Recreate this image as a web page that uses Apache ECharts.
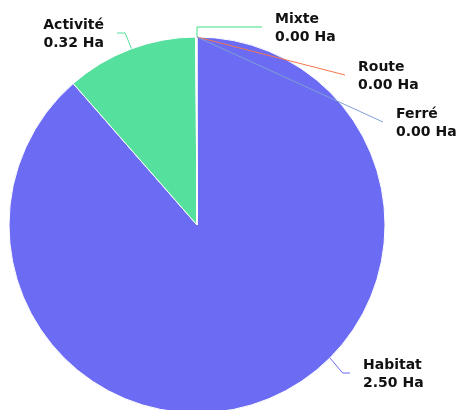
<!DOCTYPE html>
<html>
<head>
<meta charset="utf-8">
<script src="https://cdn.jsdelivr.net/npm/echarts@6/dist/echarts.min.js"></script>
<style>html,body{margin:0;padding:0;background:#fff}#c{width:457px;height:410px}</style>
</head>
<body>
<div id="c"></div>
<script>
// ---- data ----
const categories = ['Habitat', 'Activité', 'Mixte', 'Route', 'Ferré'];
const values = [2.50, 0.32, 0.001, 0.001, 0.001];
const unit = 'Ha';

// ---- style / layout ----
const colors = ['#6b6bf3', '#55e09e', '#3ddf85', '#f4764e', '#7f9fd4'];
const CX = 197, CY = 225, R = 188;
// label guide layout: anchor angle on the rim (deg), turn radius, line end, text side
const guides = [
  {anchor: -45, turnR: 206, end: [350, 373], side: 1},   // Habitat
  {anchor: 110.4, turnR: 206, end: [117, 33], side: -1}, // Activité
  {anchor: 90,  turnR: 198, end: [262, 27],  side: 1},   // Mixte
  {anchor: 90,  turnR: R,   end: [345, 75],  side: 1},   // Route
  {anchor: 90,  turnR: R,   end: [383, 122], side: 1}    // Ferré
];
const GAP = 13;

function rim(angleDeg, r) {
  const a = angleDeg * Math.PI / 180;
  return [CX + r * Math.cos(a), CY - r * Math.sin(a)];
}

const pieData = categories.map((n, i) => ({name: n, value: values[i], itemStyle: {color: colors[i]}}));
const base = {
  type: 'pie',
  center: [CX, CY],
  radius: R,
  startAngle: 90,
  clockwise: true,
  avoidLabelOverlap: false,
  silent: true
};

const chart = echarts.init(document.getElementById('c'), null, {renderer: 'canvas'});
chart.setOption({
  animation: false,
  series: [
    Object.assign({}, base, {
      z: 1,
      data: pieData,
      itemStyle: {borderColor: '#fff', borderWidth: 1},
      label: {show: false},
      labelLine: {show: false}
    }),
    Object.assign({}, base, {
      z: 5,
      data: categories.map((n, i) => ({name: n, value: values[i],
        itemStyle: {color: 'rgba(0,0,0,0)', borderWidth: 0},
        labelLine: {lineStyle: {color: colors[i]}}})),
      label: {
        formatter: p => p.name + '\n' + p.value.toFixed(2) + ' ' + unit,
        fontFamily: 'DejaVu Sans',
        fontWeight: 'bold',
        fontSize: 14,
        lineHeight: 18,
        color: '#111',
        overflow: 'none'
      },
      labelLine: {show: true, lineStyle: {width: 1}},
      labelLayout: function (params) {
        const g = guides[params.dataIndex];
        const p0 = rim(g.anchor, R);
        const p1 = g.turnR > R ? rim(g.anchor, g.turnR) : p0;
        if (g.turnR > R) p1[1] = g.end[1];
        const p2 = g.end;
        return {
          x: p2[0] + g.side * GAP,
          y: p2[1] + 1,
          align: g.side > 0 ? 'left' : 'right',
          verticalAlign: 'middle',
          labelLinePoints: [p0, p1, p2]
        };
      }
    })
  ]
});
</script>
</body>
</html>
